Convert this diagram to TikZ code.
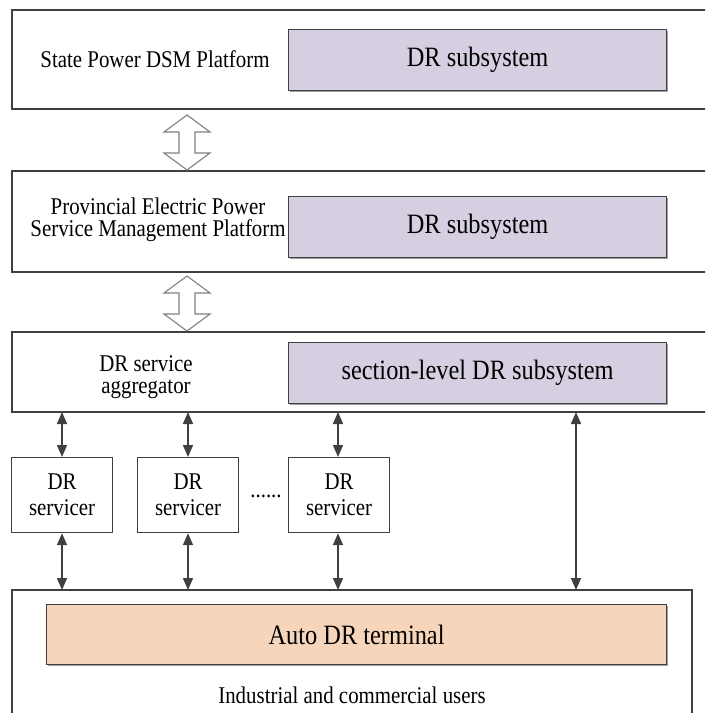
\documentclass[tikz,border=0pt]{standalone}
\usepackage{fontspec}
\setmainfont{Liberation Serif}[FakeStretch=0.87]
\usetikzlibrary{arrows.meta}
\definecolor{lav}{RGB}{213,207,225}
\definecolor{peach}{RGB}{246,213,186}
\definecolor{edge}{RGB}{64,64,64}
\definecolor{lightedge}{RGB}{128,128,128}
\definecolor{shade}{RGB}{160,160,160}
\tikzset{
  layer/.style={draw=edge, line width=1.2pt, fill=white},
  subsys/.style={draw=edge, line width=1.2pt, fill=lav},
  termbox/.style={draw=edge, line width=1.2pt, fill=peach},
  servbox/.style={draw=edge, line width=1.2pt, fill=white},
  shadowline/.style={draw=shade, line width=1.4pt},
  bigtxt/.style={font=\fontsize{28}{30}\selectfont, inner sep=0pt},
  smalltxt/.style={font=\fontsize{24}{22}\selectfont, align=center, inner sep=0pt},
  servtxt/.style={font=\fontsize{24}{26}\selectfont, align=center, inner sep=0pt},
  link/.style={draw=edge, line width=1.6pt, {Triangle[length=12pt,width=10pt]}-{Triangle[length=12pt,width=10pt]}},
  hollow/.style={draw=lightedge, line width=1.1pt, fill=white, line join=miter},
}
\begin{document}
\begin{tikzpicture}[x=1pt,y=-1pt]
\useasboundingbox (0,0) rectangle (705,713);
\clip (0,0) rectangle (705,713);
% layer boxes
\draw[layer] (12,10) rectangle (712,109);
\draw[layer] (12,171) rectangle (712,272);
\draw[layer] (12,332) rectangle (712,412);
\draw[layer] (12,590) rectangle (692,725);
% subsystems
\foreach \nm/\yy in {sub1/29, sub2/196, sub3/342}{
  \draw[shadowline] (290,\yy+62.5) -- (667.5,\yy+62.5) -- (667.5,\yy+2);
  \node[subsys, minimum width=378pt, minimum height=61pt, anchor=north west] (\nm) at (288,\yy) {};
}
\node[bigtxt] at (sub1.center) {DR subsystem};
\node[bigtxt] at (sub2.center) {DR subsystem};
\node[bigtxt] at (sub3.center) {section-level DR subsystem};
% layer labels
\node[smalltxt] (lab1) at (155,59) {State Power DSM Platform};
\node[smalltxt] (lab2) at (158,220) {Provincial Electric Power\\Service Management Platform};
\node[smalltxt] (lab3) at (146,377) {DR service\\aggregator};
% hollow double arrows
\foreach \yt/\yb in {115/170, 276/331}{
  \draw[hollow] (187,\yt) -- (210,\yt+17) -- (195,\yt+17) -- (195,\yb-17) -- (210,\yb-17) -- (187,\yb)
     -- (164,\yb-17) -- (179,\yb-17) -- (179,\yt+17) -- (164,\yt+17) -- cycle;
}
% servicers
\node[servbox, minimum width=101pt, minimum height=75pt, anchor=north west] (s1) at (11,457) {};
\node[servbox, minimum width=101pt, minimum height=75pt, anchor=north west] (s2) at (137,457) {};
\node[servbox, minimum width=101pt, minimum height=75pt, anchor=north west] (s3) at (288,457) {};
\foreach \s in {s1,s2,s3}{
  \node[servtxt] at (\s.center) {DR\\servicer};
}
\node[smalltxt, anchor=base] (dots) at (266,497) {......};
% terminal
\draw[shadowline] (48,665.5) -- (667.5,665.5) -- (667.5,606);
\node[termbox, minimum width=620pt, minimum height=60pt, anchor=north west] (term) at (46,604) {};
\node[bigtxt] at (term.center) {Auto DR terminal};
\node[smalltxt] (users) at (352,695) {Industrial and commercial users};
% connectors
\coordinate (a1t) at (62,412); \coordinate (a2t) at (188,412); \coordinate (a3t) at (338,412); \coordinate (a4t) at (576,412);
\coordinate (a1b) at (62,590); \coordinate (a2b) at (188,590); \coordinate (a3b) at (338,590); \coordinate (a4b) at (576,590);
\draw[link] (a1t) -- (s1.north -| a1t);
\draw[link] (a2t) -- (s2.north -| a2t);
\draw[link] (a3t) -- (s3.north -| a3t);
\draw[link] (s1.south -| a1b) -- (a1b);
\draw[link] (s2.south -| a2b) -- (a2b);
\draw[link] (s3.south -| a3b) -- (a3b);
\draw[link] (a4t) -- (a4b);
\end{tikzpicture}
\end{document}
